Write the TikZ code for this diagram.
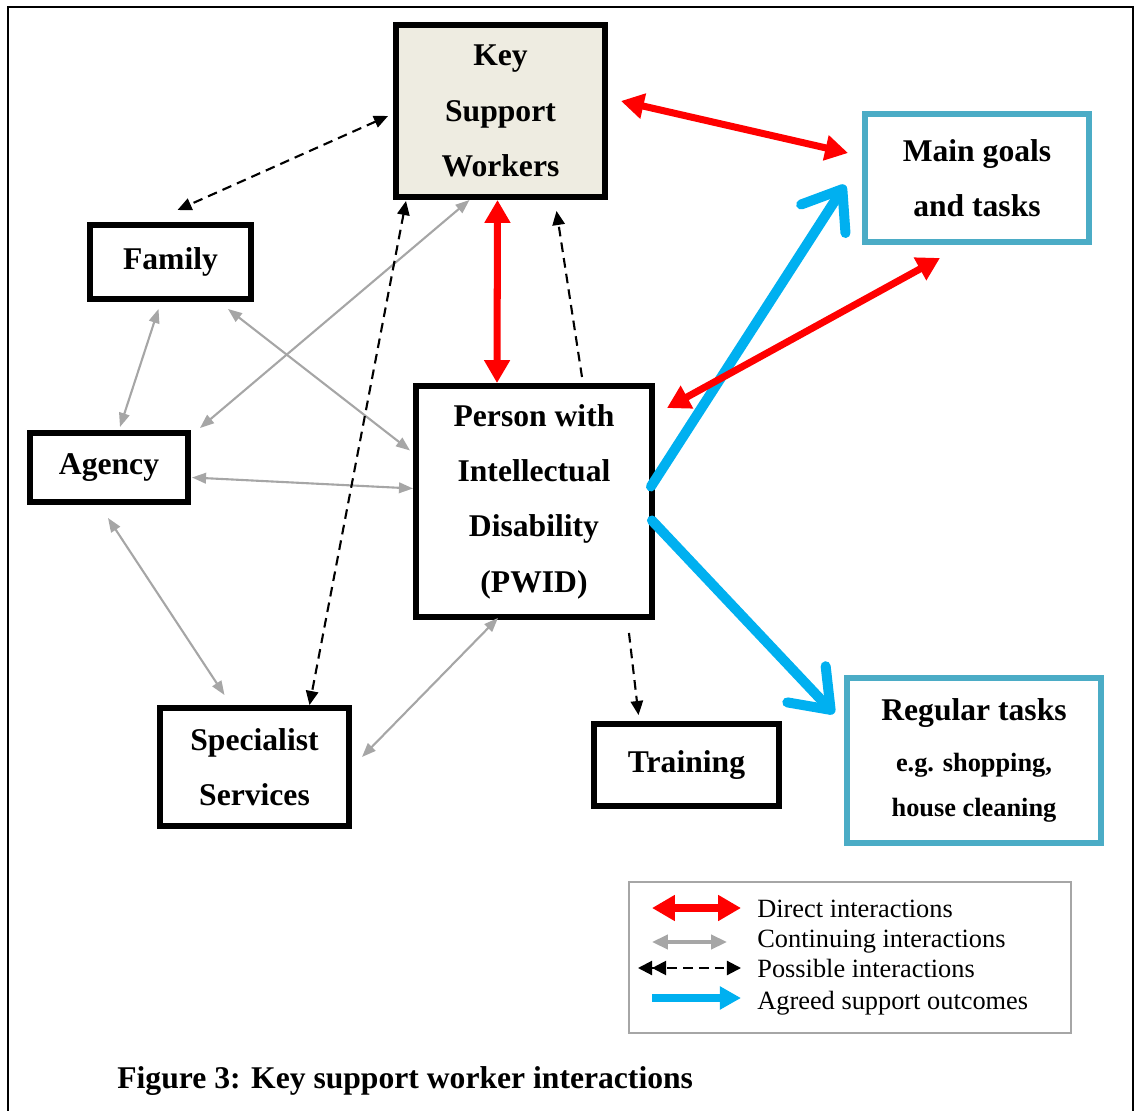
\documentclass[tikz,border=0pt]{standalone}
\usepackage{fontspec}
\setmainfont{Liberation Serif}
\usetikzlibrary{arrows.meta,calc}
\definecolor{kswfill}{HTML}{EEECE1}
\definecolor{goalteal}{HTML}{4BACC6}
\definecolor{agreedblue}{HTML}{00B0F0}
\definecolor{contgray}{HTML}{A6A6A6}
\tikzset{
  box/.style={draw,line width=3.4pt,inner sep=0pt,align=center,font=\fontsize{18}{31.5}\selectfont\bfseries},
  tbox/.style={box,draw=goalteal},
  direct/.style={line width=4pt,red,{Triangle[length=13pt,width=14pt]}-{Triangle[length=13pt,width=14pt]}},
  cont/.style={line width=1.2pt,contgray,{Triangle[length=8pt,width=6pt]}-{Triangle[length=8pt,width=6pt]}},
  contl/.style={line width=2pt,contgray,{Triangle[length=9pt,width=8pt]}-{Triangle[length=9pt,width=8pt]}},
  poss/.style={line width=1.2pt,dash pattern=on 5.5pt off 3.5pt,-{Triangle[length=8pt,width=7pt]}},
  possb/.style={poss,{Triangle[length=8pt,width=7pt]}-{Triangle[length=8pt,width=7pt]}},
  possl/.style={poss,{Triangle[length=8pt,width=8pt]Triangle[length=8pt,width=8pt]}-{Triangle[length=8pt,width=8pt]}},
  agreed/.style={line width=5.7pt,agreedblue,line cap=round,-{Straight Barb[length=20pt,width=30pt,round]}},
  agreedl/.style={line width=4.5pt,agreedblue,-{Triangle[length=12pt,width=12.5pt]}},
  legtext/.style={anchor=base west,inner sep=0pt,font=\fontsize{15}{18}\selectfont}
}
\begin{document}
\begin{tikzpicture}[x=0.02cm,y=-0.02cm]
\useasboundingbox (0,0) rectangle (1136,1111);
\draw[line width=1.4pt] (8,1111) -- (8,7) -- (1133,7) -- (1133,1111);
\node[box,fill=kswfill,minimum width=4.18cm,minimum height=3.44cm] (ksw) at (500.5,111) {Key\\Support\\Workers};
\node[box,minimum width=3.22cm,minimum height=1.48cm] (family) at (170.5,262) {Family};
\node[box,minimum width=3.16cm,minimum height=1.38cm] (agency) at (109,467.5) {Agency};
\node[box,minimum width=4.72cm,minimum height=4.62cm] (pwid) at (534,501.5) {Person with\\Intellectual\\Disability\\(PWID)};
\node[box,minimum width=3.78cm,minimum height=2.36cm] (spec) at (254.5,767) {Specialist\\Services};
\node[box,minimum width=3.70cm,minimum height=1.64cm] (train) at (686.5,765) {Training};
\node[tbox,minimum width=4.48cm,minimum height=2.56cm] (goals) at (977,178) {Main goals\\and tasks};
\node[tbox,minimum width=5.08cm,minimum height=3.30cm,font=\fontsize{15}{25.5}\selectfont\bfseries] (regular) at (974,760.5)
  {{\fontsize{18}{29}\selectfont Regular tasks}\\[3.5pt]e.g. shopping,\\house cleaning};
\draw[agreed] ($(pwid.east)+(-4,-15)$) -- ($(goals.west)+(-17,7)$);
\draw[agreed] ($(pwid.east)+(-3,19)$) -- ($(regular.west)+(-10,-47)$);
\draw[direct] ($(ksw.east)+(13,-10)$) -- ($(goals.west)+(-14,-25)$);
\draw[direct] ($(ksw.south)+(-3,0)$) -- ($(pwid.north)+(-37,0)$);
\draw[direct] ($(pwid.north east)+(12,25)$) -- ($(goals.south)+(-37,13)$);
\draw[cont] ($(family.south)+(-12,7)$) -- ($(agency.north)+(11,-3)$);
\draw[cont] ($(family.south east)+(-26,7)$) -- ($(pwid.west)+(-3,-51)$);
\draw[cont] ($(ksw.south)+(-31,0)$) -- ($(agency.north east)+(9,-2)$);
\draw[cont] ($(agency.east)+(1,10)$) -- ($(pwid.west)+(0,-13)$);
\draw[cont] ($(agency.south)+(-1,13)$) -- ($(spec.north)+(-30,-10)$);
\draw[cont] ($(pwid.south)+(-36,-2)$) -- ($(spec.east)+(10,-10)$);
\draw[possb] ($(ksw.west)+(-5,5)$) -- ($(family.north)+(7,-12)$);
\draw[possb] ($(ksw.south west)+(13,1)$) -- ($(spec.north)+(55,0)$);
\draw[poss] ($(pwid.north)+(48,-6)$) -- ($(ksw.south)+(56,11)$);
\draw[poss] ($(pwid.south east)+(-26,13)$) -- ($(train.north)+(-48,-6)$);
\draw[contgray,line width=1.2pt] (629,882) rectangle (1071,1033);
\draw[direct,line width=5pt] (652,908) -- (741,908);
\draw[contl] (652,942) -- (727,942);
\draw[possl] (638,968) -- (741,968);
\draw[agreedl] (652,998) -- (741,998);
\foreach \yb/\txt in {917/Direct interactions,947/Continuing interactions,977/Possible interactions,1009/Agreed support outcomes}
  \node[legtext] at (757,\yb) {\txt};
\node[anchor=base west,inner sep=0pt,font=\fontsize{18}{22}\selectfont\bfseries] (caption) at (117,1088) {Figure 3: Key support worker interactions};
\end{tikzpicture}
\end{document}
